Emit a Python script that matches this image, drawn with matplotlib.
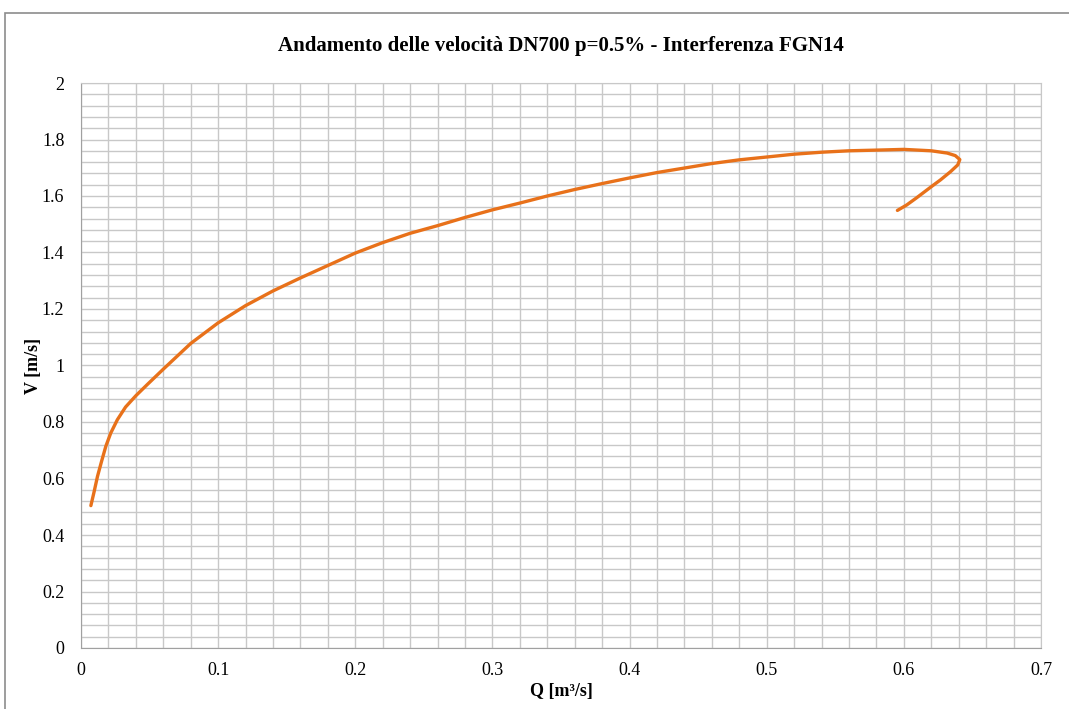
import matplotlib
matplotlib.use("Agg")
import matplotlib.pyplot as plt
from matplotlib.ticker import MultipleLocator, FuncFormatter
from matplotlib.patches import Rectangle

title = "Andamento delle velocità DN700 p=0.5% - Interferenza FGN14"
x_label = "Q [m³/s]"
y_label = "V [m/s]"

Q = [0.0072, 0.0096, 0.0120, 0.0149, 0.0181, 0.0217, 0.0265, 0.0325, 0.0400,
     0.0482, 0.06, 0.08, 0.10, 0.12, 0.14, 0.16, 0.18, 0.20,
     0.22, 0.24, 0.26, 0.28, 0.30, 0.32, 0.34, 0.36, 0.38, 0.40, 0.42, 0.44,
     0.46, 0.48, 0.50, 0.52, 0.54, 0.56, 0.5847, 0.60, 0.62, 0.6316, 0.6375,
     0.6408, 0.6393, 0.634, 0.6267, 0.62, 0.6094, 0.602, 0.5953]
V = [0.504, 0.554, 0.607, 0.659, 0.714, 0.761, 0.808, 0.853, 0.893,
     0.932, 0.987, 1.078, 1.151, 1.212, 1.264, 1.310, 1.354, 1.398,
     1.435, 1.468, 1.495, 1.524, 1.551, 1.575, 1.600, 1.623, 1.644, 1.664, 1.683, 1.699,
     1.715, 1.728, 1.738, 1.748, 1.755, 1.760, 1.763, 1.765, 1.760, 1.752, 1.743,
     1.729, 1.710, 1.686, 1.657, 1.633, 1.594, 1.568, 1.549]

plt.rcParams['font.family'] = ['Liberation Serif', 'DejaVu Serif']

fig = plt.figure(figsize=(10.69, 7.09), dpi=100)
ax = fig.add_axes([81/1069, 1-648/709, (1041-81)/1069, (648-83)/709])

ax.plot(Q, V, color='#E8711A', lw=2.4, solid_capstyle='round',
        solid_joinstyle='round', zorder=3)

ax.set_xlim(0, 0.7)
ax.set_ylim(0, 2)
ax.xaxis.set_major_locator(MultipleLocator(0.1))
ax.xaxis.set_minor_locator(MultipleLocator(0.02))
ax.yaxis.set_major_locator(MultipleLocator(0.2))
ax.yaxis.set_minor_locator(MultipleLocator(0.04))
fmt = FuncFormatter(lambda v, p: f"{round(v, 2):g}")
ax.xaxis.set_major_formatter(fmt)
ax.yaxis.set_major_formatter(fmt)
ax.grid(True, which='both', color='#C8C8C8', lw=1.0)
ax.set_axisbelow(True)
ax.tick_params(which='both', length=0, labelsize=13)
ax.tick_params(axis='x', pad=10)
ax.tick_params(axis='y', pad=12)
for s in ['top', 'right']:
    ax.spines[s].set_color('#C8C8C8')
for s in ['left', 'bottom']:
    ax.spines[s].set_color('#A0A0A0')

ax.set_title(title, fontsize=15, fontweight='bold', pad=23)
ax.set_xlabel(x_label, fontsize=13, fontweight='bold', labelpad=3)
ax.set_ylabel(y_label, fontsize=13, fontweight='bold', labelpad=0)

fig.patches.append(Rectangle((5/1069, -0.05), 1.2, 1.05 - 13/709,
                             transform=fig.transFigure, fill=False,
                             edgecolor='#8C8C8C', lw=1.2))

fig.savefig("out.png", dpi=100)
